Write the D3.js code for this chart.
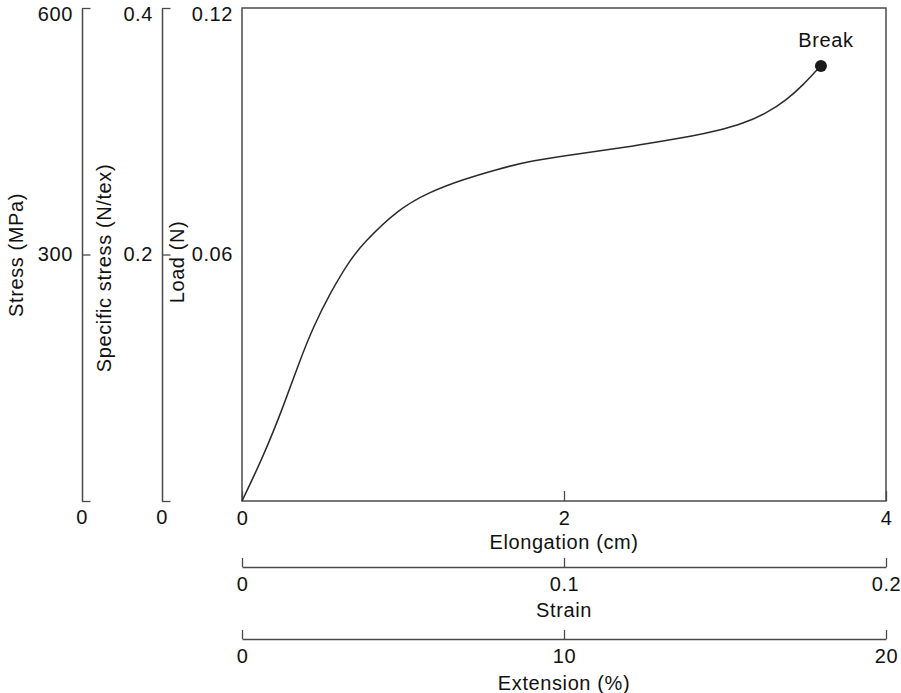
<!DOCTYPE html>
<html>
<head>
<meta charset="utf-8">
<script src="https://cdn.jsdelivr.net/npm/d3@7"></script>
<style>
  body { margin: 0; background: #fff; }
  svg { display: block; }
  text { font-family: "Liberation Sans", Arial, Helvetica, sans-serif; font-size: 20px; fill: #111; letter-spacing: 0.6px; }
</style>
</head>
<body>
<svg id="chart" width="901" height="693"></svg>
<script>
// ---- data ----
const elongationCm = [0, 0.132, 0.257, 0.360, 0.443, 0.547, 0.671, 0.753, 0.961, 1.168, 1.375, 1.582, 1.789, 2.099, 2.389, 2.596, 2.803, 2.948, 3.114, 3.259, 3.383, 3.486, 3.570, 3.596];
const loadN        = [0, 0.0108, 0.0230, 0.0343, 0.0424, 0.0506, 0.0587, 0.0627, 0.0708, 0.0753, 0.0783, 0.0807, 0.0828, 0.0846, 0.0861, 0.0875, 0.0889, 0.0901, 0.0919, 0.0944, 0.0976, 0.1013, 0.1049, 0.1059];
const breakPoint = { elongation: 3.596, load: 0.1059, label: "Break" };

const loadTicks = [0.06, 0.12];
const specificStressTicks = [0.2, 0.4];
const stressTicks = [300, 600];
const elongationTicks = [0, 2, 4];
const strainTicks = [0, 0.1, 0.2];
const extensionTicks = [0, 10, 20];

// ---- layout ----
const svg = d3.select("#chart");
const L = 242, R = 886, T = 8, B = 501;
const ink = "#4a4a4a";

const x = d3.scaleLinear().domain([0, 4]).range([L, R]);
const y = d3.scaleLinear().domain([0, 0.12]).range([B, T]);
const yStress = d3.scaleLinear().domain([0, 600]).range([B, T]);
const ySpec = d3.scaleLinear().domain([0, 0.4]).range([B, T]);
const xStrain = d3.scaleLinear().domain([0, 0.2]).range([L, R]);
const xExt = d3.scaleLinear().domain([0, 20]).range([L, R]);

function styleAxis(g) {
  g.selectAll("path.domain").attr("stroke", ink).attr("stroke-width", 1.5);
  g.selectAll(".tick line").attr("stroke", ink).attr("stroke-width", 1.3);
  g.selectAll(".tick text").attr("fill", "#111").style("font-size", "20px")
    .style("font-family", '"Liberation Sans", Arial, sans-serif');
}

// plot box
svg.append("rect").attr("x", L).attr("y", T).attr("width", R - L).attr("height", B - T)
  .attr("fill", "none").attr("stroke", ink).attr("stroke-width", 1.5);

// left vertical axes (ticks point right, labels on left)
function leftAxis(scale, ticks, xpos, fmt) {
  const g = svg.append("g").attr("transform", `translate(${xpos},0)`)
    .call(d3.axisLeft(scale).tickValues([0].concat(ticks)).tickSize(-8.5).tickSizeOuter(0).tickPadding(9)
      .tickFormat(d => d === 0 ? "" : fmt(d)));
  styleAxis(g);
  g.selectAll(".tick text").filter(d => d === ticks[ticks.length - 1]).attr("dy", "0.62em");
  svg.append("text").attr("x", xpos).attr("y", 517).attr("dy", "0.35em").attr("text-anchor", "middle").text("0");
  return g;
}
leftAxis(yStress, stressTicks, 82, d3.format("d"));
leftAxis(ySpec, specificStressTicks, 162, d3.format(".1f"));

// load axis on box left: labels only
const gLoad = svg.append("g").attr("transform", `translate(${L},0)`)
  .call(d3.axisLeft(y).tickValues(loadTicks).tickSize(0).tickPadding(9).tickFormat(d3.format(".2f")));
styleAxis(gLoad);
gLoad.select("path.domain").remove();
gLoad.selectAll(".tick text").filter(d => d === 0.12).attr("dy", "0.62em");

// elongation axis on box bottom: ticks inward
const gEl = svg.append("g").attr("transform", `translate(0,${B})`)
  .call(d3.axisBottom(x).tickValues(elongationTicks).tickSize(-10).tickSizeOuter(0).tickPadding(10).tickFormat(d3.format("d")));
styleAxis(gEl);
gEl.select("path.domain").remove();

// strain & extension axes: ticks up, labels below
function bottomAxis(scale, ticks, ypos, fmt) {
  const g = svg.append("g").attr("transform", `translate(0,${ypos})`)
    .call(d3.axisBottom(scale).tickValues(ticks).tickSize(-9).tickSizeOuter(0).tickPadding(10).tickFormat(fmt));
  styleAxis(g);
  return g;
}
bottomAxis(xStrain, strainTicks, 567, d3.format(".1~f"));
bottomAxis(xExt, extensionTicks, 639, d3.format("d"));

// axis titles
svg.append("text").attr("x", (L + R) / 2).attr("y", 549).attr("text-anchor", "middle").text("Elongation (cm)");
svg.append("text").attr("x", (L + R) / 2).attr("y", 617).attr("text-anchor", "middle").text("Strain");
svg.append("text").attr("x", (L + R) / 2).attr("y", 690).attr("text-anchor", "middle").text("Extension (%)");

svg.append("text").attr("transform", "translate(23,255) rotate(-90)").attr("text-anchor", "middle").text("Stress (MPa)");
svg.append("text").attr("transform", "translate(111,268) rotate(-90)").attr("text-anchor", "middle").text("Specific stress (N/tex)");
svg.append("text").attr("transform", "translate(183.5,262) rotate(-90)").attr("text-anchor", "middle").text("Load (N)");

// curve
const pts = elongationCm.map((e, i) => [e, loadN[i]]);
const line = d3.line().x(d => x(d[0])).y(d => y(d[1])).curve(d3.curveBasis);
svg.append("path").datum(pts).attr("d", line).attr("fill", "none").attr("stroke", "#2a2a2a").attr("stroke-width", 1.5);

// break point
svg.append("circle").attr("cx", x(breakPoint.elongation)).attr("cy", y(breakPoint.load)).attr("r", 6).attr("fill", "#1a1a1a");
svg.append("text").attr("x", x(breakPoint.elongation) + 5).attr("y", y(breakPoint.load) - 19)
  .attr("text-anchor", "middle").text(breakPoint.label);
</script>
</body>
</html>
